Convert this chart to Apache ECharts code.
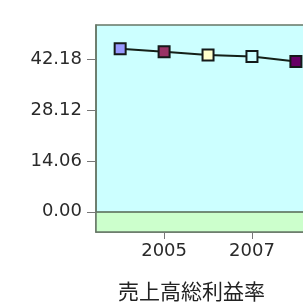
<!DOCTYPE html>
<html>
<head>
<meta charset="utf-8">
<script src="https://cdn.jsdelivr.net/npm/echarts@6/dist/echarts.min.js"></script>
<style>
  html, body { margin: 0; padding: 0; background: #fff; overflow: hidden; }
  #chart { width: 380px; height: 302px; }
</style>
</head>
<body>
<div id="chart"></div>
<script>
const years = [2004, 2005, 2006, 2007, 2008]
const values = [45.1, 44.3, 43.4, 43.0, 41.6]
const markerColors = ['#9999ff', '#993366', '#ffffcc', '#ccffff', '#660066']
const yTicks = [0, 14.06, 28.12, 42.18]
const xTicks = [2005, 2007]
const title = '売上高総利益率'

const axisColor = '#667766'
const textStyle = { fontFamily: 'DejaVu Sans', fontSize: 18, color: '#2a2a2a' }

// the div is wider than the window: the plot runs past the right edge, as in the reference
const chart = echarts.init(document.getElementById('chart'))

chart.setOption({
  animation: false,
  title: {
    text: title,
    left: 113,
    top: 276,
    textStyle: { fontFamily: 'Noto Sans CJK JP', fontSize: 21, fontWeight: 'normal', color: '#222' }
  },
  grid: {
    left: 96,
    right: 16,
    top: 25,
    bottom: 70,
    show: true,
    backgroundColor: '#ccffff',
    borderColor: axisColor,
    borderWidth: 1.5
  },
  xAxis: {
    type: 'value',
    min: 2003.45,
    max: 2009.55,
    z: 5,
    splitLine: { show: false },
    axisLine: { show: true, onZero: false, lineStyle: { color: axisColor, width: 1.5 } },
    axisTick: { show: true, length: 7, customValues: xTicks, lineStyle: { color: '#777' } },
    axisLabel: { ...textStyle, margin: 10, customValues: xTicks, formatter: v => String(v) }
  },
  yAxis: {
    type: 'value',
    min: -5.6,
    max: 51.7,
    z: 5,
    splitLine: { show: false },
    axisLine: { show: true, lineStyle: { color: axisColor, width: 1.5 } },
    axisTick: { show: true, length: 9, customValues: yTicks, lineStyle: { color: '#777' } },
    axisLabel: { ...textStyle, margin: 14, customValues: yTicks, formatter: v => v.toFixed(2) }
  },
  series: [{
    type: 'line',
    data: years.map((y, i) => ({
      value: [y, values[i]],
      itemStyle: { color: markerColors[i] }
    })),
    symbol: 'rect',
    symbolSize: 11,
    showAllSymbol: true,
    lineStyle: { color: '#142018', width: 2 },
    itemStyle: { borderColor: '#141a1a', borderWidth: 2 },
    z: 4,
    markArea: {
      silent: true,
      itemStyle: { color: '#ccffcc' },
      data: [[{ yAxis: -5.6 }, { yAxis: 0 }]]
    },
    markLine: {
      silent: true,
      symbol: 'none',
      label: { show: false },
      lineStyle: { color: '#556655', width: 1.5, type: 'solid' },
      data: [{ yAxis: 0 }]
    }
  }]
})
</script>
</body>
</html>
